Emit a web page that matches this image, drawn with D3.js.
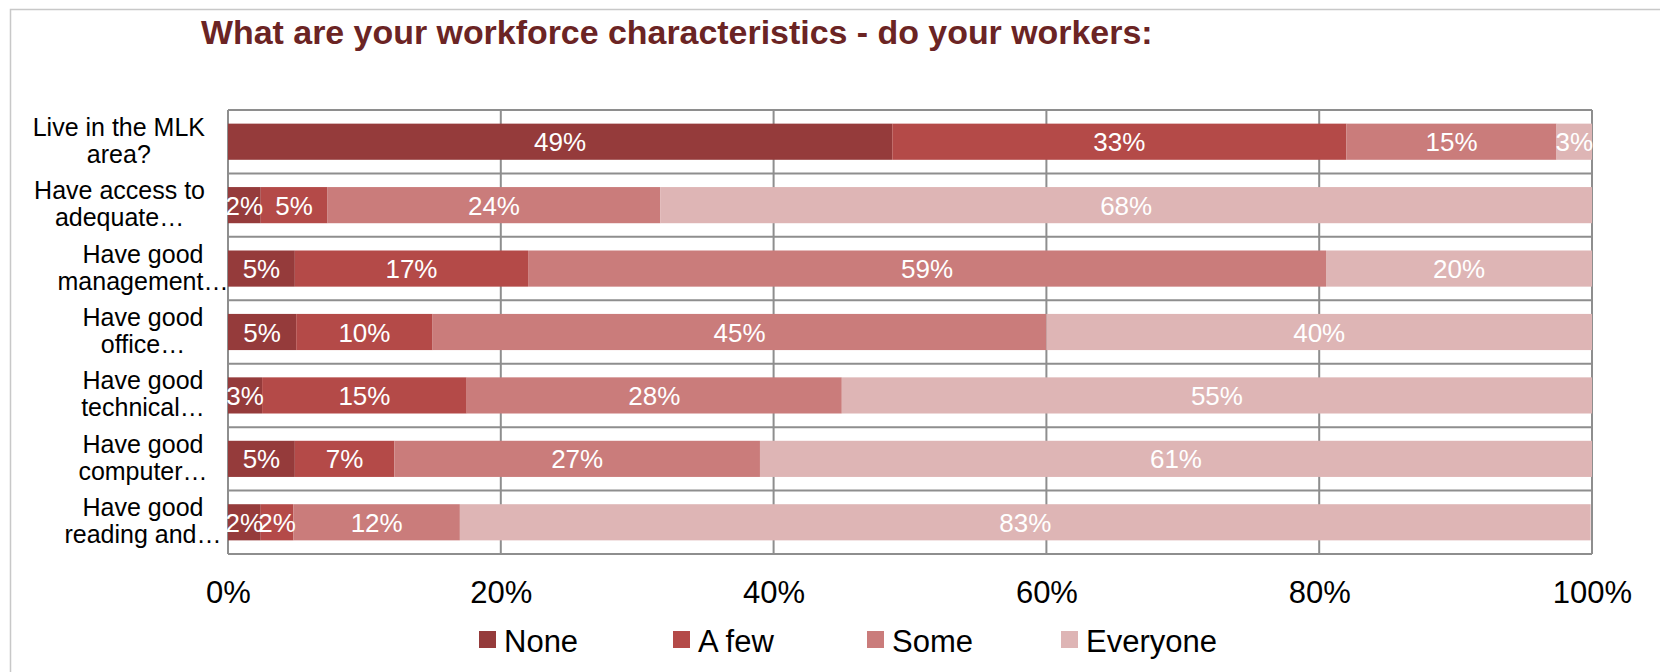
<!DOCTYPE html>
<html>
<head>
<meta charset="utf-8">
<script src="https://cdn.jsdelivr.net/npm/d3@7"></script>
<style>
  html, body { margin: 0; padding: 0; background: #fff; }
  svg { display: block; }
  text { font-family: "Liberation Sans", Arial, sans-serif; }
</style>
</head>
<body>
<svg id="chart" width="1660" height="672"></svg>
<script>
// ---- data ----
const categories = [
  ["Live in the MLK", "area?"],
  ["Have access to", "adequate…"],
  ["Have good", "management…"],
  ["Have good", "office…"],
  ["Have good", "technical…"],
  ["Have good", "computer…"],
  ["Have good", "reading and…"]
];
const seriesNames = ["None", "A few", "Some", "Everyone"];
const none     = [48.7, 2.4, 4.9, 5.0, 2.5, 4.9, 2.4];
const aFew     = [33.3, 4.9, 17.1, 10.0, 15.0, 7.3, 2.4];
const some     = [15.4, 24.4, 58.5, 45.0, 27.5, 26.8, 12.2];
const everyone = [2.6, 68.3, 19.5, 40.0, 55.0, 61.0, 82.9];
const xTicks = [0, 20, 40, 60, 80, 100];
const titleText = "What are your workforce characteristics - do your workers:";
const colors = ["#953b3b", "#b44a48", "#ca7c7b", "#deb5b5"];

// ---- layout ----
const svg = d3.select("#chart");
const plot = { left: 228, right: 1592, top: 110, bottom: 554 };
const keys = categories.map((c, i) => i);
const seriesData = [none, aFew, some, everyone];
const rows = keys.map(i => {
  const o = { key: i };
  seriesNames.forEach((s, j) => o[s] = seriesData[j][i]);
  return o;
});
const stacked = d3.stack().keys(seriesNames)(rows);

const x = d3.scaleLinear().domain([0, 100]).range([plot.left, plot.right]);
const y = d3.scaleBand().domain(keys).range([plot.top, plot.bottom])
  .paddingInner(0.43).paddingOuter(0.215);
const step = y.step();

// outer frame
svg.append("rect").attr("x", 10.5).attr("y", 9.5).attr("width", 1700).attr("height", 700)
  .attr("fill", "none").attr("stroke", "#c8c8c8").attr("stroke-width", 1.5);

// title
const title = svg.append("text").attr("x", 201).attr("y", 44)
  .attr("font-weight", "bold").attr("fill", "#6b2424")
  .attr("font-size", 30).text(titleText);
const tw = title.node().getComputedTextLength();
title.attr("font-size", 30 * 952 / tw);

// grid
const grid = svg.append("g");
xTicks.forEach(t => {
  grid.append("line").attr("x1", x(t)).attr("x2", x(t))
    .attr("y1", plot.top).attr("y2", plot.bottom)
    .attr("stroke", "#8e8e8e").attr("stroke-width", 2);
});
d3.range(keys.length + 1).map(i => plot.top + i * step).forEach(v => {
  grid.append("line").attr("x1", plot.left).attr("x2", plot.right)
    .attr("y1", v).attr("y2", v)
    .attr("stroke", "#8e8e8e").attr("stroke-width", 2);
});

// bars
const layers = svg.append("g").selectAll("g").data(stacked).join("g")
  .attr("fill", (d, i) => colors[i]);
layers.selectAll("rect").data(d => d).join("rect")
  .attr("x", d => x(d[0]))
  .attr("width", d => x(d[1]) - x(d[0]))
  .attr("y", d => y(d.data.key))
  .attr("height", y.bandwidth());

// value labels
const lbl = svg.append("g");
stacked.forEach(layer => {
  layer.forEach(d => {
    const v = d[1] - d[0];
    lbl.append("text")
      .attr("x", (x(d[0]) + x(d[1])) / 2)
      .attr("y", y(d.data.key) + y.bandwidth() / 2 + 9.5)
      .attr("text-anchor", "middle").attr("fill", "#fff")
      .attr("font-size", 26)
      .text(Math.round(v) + "%");
  });
});

// category labels
const catG = svg.append("g");
categories.forEach((lines, i) => {
  const cy = y(i) + y.bandwidth() / 2;
  const t = catG.append("text").attr("font-size", 25).attr("fill", "#000")
    .attr("text-anchor", "middle");
  const t1 = t.append("tspan").attr("y", cy - 6).text(lines[0]);
  const t2 = t.append("tspan").attr("y", cy + 21).text(lines[1]);
  const w1 = t1.node().getComputedTextLength();
  const cx = Math.min(143, 205 - w1 / 2);
  t1.attr("x", cx); t2.attr("x", cx);
});

// x axis labels
const axis = d3.axisBottom(x).tickValues(xTicks).tickFormat(d => d + "%").tickSize(0).tickPadding(0);
const ax = svg.append("g").attr("transform", `translate(0,${plot.bottom})`).call(axis);
ax.select(".domain").remove();
ax.selectAll("text").attr("font-size", 31).attr("fill", "#000")
  .attr("font-family", "Liberation Sans, Arial, sans-serif")
  .attr("dy", null).attr("y", 49);

// legend
const leg = svg.append("g");
seriesNames.forEach((s, i) => {
  const lx = 479 + i * 194;
  leg.append("rect").attr("x", lx).attr("y", 631).attr("width", 17).attr("height", 17)
    .attr("fill", colors[i]);
  leg.append("text").attr("x", lx + 25).attr("y", 652).attr("font-size", 31)
    .attr("fill", "#000").text(s);
});
</script>
</body>
</html>
